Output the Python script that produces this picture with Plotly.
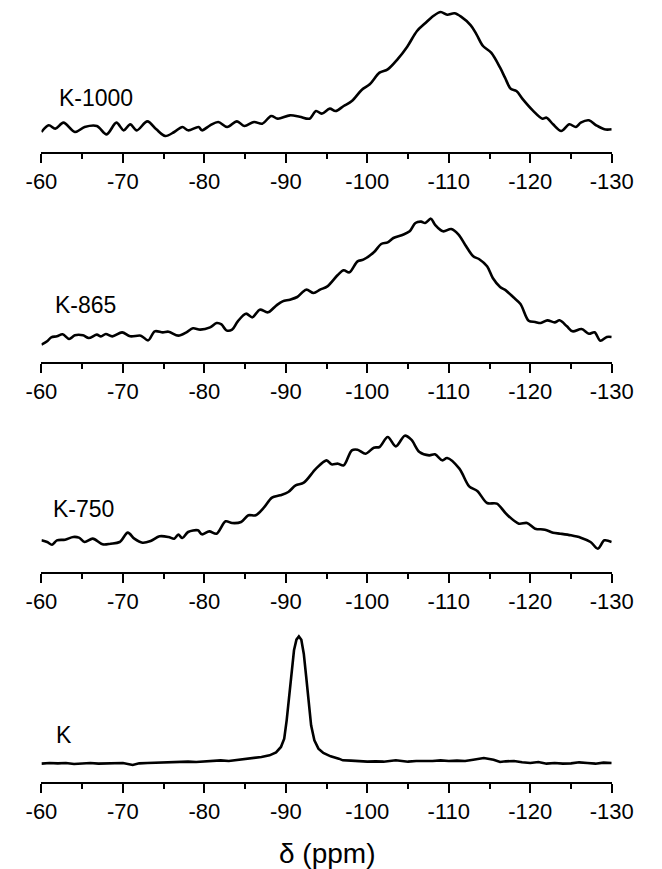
import plotly.graph_objects as go

# 29Si MAS NMR spectra: chemical shift (ppm) and intensity (a.u.)
ppm_k1000 = [-60.0, -60.9, -61.7, -62.7, -64.1, -65.3, -66.8, -68.0, -69.2, -70.1,
             -70.9, -71.7, -73.0, -74.1, -75.2, -76.3, -77.3, -78.0, -79.3, -79.7,
             -80.7, -81.7, -82.8, -84.0, -84.9, -86.1, -87.1, -88.2, -89.0, -90.5,
             -91.7, -92.9, -93.7, -94.4, -95.4, -96.1, -97.1, -98.1, -99.3, -100.3,
             -101.5, -102.5, -103.7, -104.9, -106.1, -107.1, -108.1, -109.0, -109.8, -110.7,
             -111.5, -112.7, -113.4, -114.2, -115.2, -116.3, -116.9, -117.6, -118.3, -119.1,
             -120.3, -121.5, -122.0, -122.8, -123.8, -124.8, -125.6, -126.2, -127.2, -128.1,
             -129.1, -130.0]
int_k1000 = [-3, 17, 7, 25, -3, 12, 15, -10, 25, 2,
             20, 2, 29, 5, -15, -3, 12, 2, 12, 2,
             17, 27, 12, 29, 15, 27, 22, 45, 37, 47,
             43, 37, 60, 52, 67, 60, 75, 90, 123, 140,
             175, 185, 215, 253, 300, 323, 345, 357, 349, 353,
             343, 317, 290, 255, 235, 190, 160, 127, 120, 95,
             62, 37, 40, 20, 0, 20, 12, 25, 32, 17,
             5, 5]

ppm_k865 = [-60.0, -60.7, -61.2, -61.9, -62.6, -63.4, -64.1, -65.1, -65.8, -66.8,
            -67.3, -67.9, -68.7, -69.9, -70.9, -72.2, -73.1, -73.9, -74.9, -75.6,
            -76.8, -77.8, -78.6, -79.5, -80.7, -81.5, -82.1, -82.7, -83.4, -84.1,
            -85.1, -85.9, -86.8, -87.8, -88.8, -89.6, -90.5, -91.4, -92.5, -93.4,
            -94.2, -95.1, -96.4, -97.1, -97.8, -98.8, -99.5, -100.8, -101.7, -102.5,
            -103.2, -104.3, -105.2, -105.9, -106.6, -107.1, -107.8, -108.3, -109.3, -110.3,
            -111.2, -112.0, -113.0, -113.7, -114.7, -115.4, -116.3, -117.0, -117.9, -118.8,
            -119.8, -120.6, -121.3, -122.1, -123.0, -123.6, -124.5, -125.2, -126.3, -127.2,
            -127.9, -128.6, -129.4, -130.0]
int_k865 = [-25, -15, -3, 0, 6, -8, 3, 3, -5, 5,
            0, 7, 0, 12, 0, 2, -12, 15, 12, 14,
            2, 12, 24, 20, 27, 40, 36, 18, 20, 45,
            68, 57, 80, 72, 92, 105, 110, 118, 140, 130,
            140, 150, 185, 198, 192, 225, 230, 252, 277, 282,
            295, 304, 315, 340, 344, 340, 353, 335, 315, 322,
            305, 275, 240, 232, 210, 175, 148, 138, 118, 97,
            47, 43, 40, 48, 42, 48, 30, 15, 22, 8,
            12, -13, -2, -2]

ppm_k750 = [-60.0, -60.7, -61.3, -61.9, -62.9, -63.9, -64.6, -65.3, -66.3, -67.5,
            -68.5, -69.6, -70.6, -71.4, -72.4, -73.4, -74.5, -75.6, -76.3, -76.8,
            -77.3, -78.0, -79.2, -79.7, -80.6, -81.5, -82.6, -83.4, -84.5, -85.4,
            -86.3, -87.3, -88.3, -89.3, -90.3, -91.2, -92.2, -93.7, -95.0, -95.6,
            -96.4, -97.1, -98.1, -98.8, -99.8, -100.8, -101.5, -102.5, -103.5, -104.6,
            -105.4, -106.4, -107.6, -108.3, -109.2, -109.8, -111.3, -112.5, -113.5, -114.7,
            -115.9, -117.1, -118.6, -119.6, -120.6, -121.8, -122.8, -123.7, -125.0, -126.2,
            -127.4, -128.3, -129.1, -130.0]
int_k750 = [0, -5, -13, 0, 2, 10, 8, -5, 5, -12,
            -10, -5, 23, 5, -7, -2, 12, 10, 5, 17,
            7, 25, 30, 18, 27, 20, 57, 52, 55, 75,
            75, 98, 128, 135, 145, 165, 173, 215, 240, 228,
            230, 225, 270, 272, 260, 278, 280, 310, 282, 314,
            302, 265, 255, 258, 240, 247, 215, 162, 148, 112,
            110, 78, 50, 52, 35, 32, 23, 20, 15, 8,
            -5, -25, 0, -5]

ppm_k = [-60.0, -61.0, -62.0, -63.0, -64.0, -65.0, -66.0, -67.0, -68.0, -69.0,
         -70.0, -71.2, -72.0, -73.0, -74.0, -75.0, -76.0, -77.0, -78.0, -79.0,
         -80.0, -81.0, -82.0, -83.0, -84.0, -85.5, -87.0, -88.0, -88.8, -89.4,
         -89.8, -90.1, -90.4, -90.7, -91.0, -91.3, -91.6, -91.9, -92.2, -92.5,
         -92.8, -93.1, -93.5, -94.0, -94.6, -95.5, -96.5, -97.0, -98.0, -99.0,
         -100.0, -101.0, -102.0, -103.5, -105.0, -106.0, -107.0, -108.0, -109.0, -110.0,
         -111.0, -112.0, -113.0, -114.3, -115.5, -116.3, -117.0, -118.0, -119.0, -120.0,
         -121.0, -122.0, -123.0, -124.0, -125.0, -126.0, -127.0, -128.0, -129.0, -130.0]
int_k = [-2, 0, -1, 0, -3, -1, 0, -2, -2, 0,
         0, -6, -1, 0, 1, 2, 1, 2, 4, 3,
         5, 6, 8, 6, 9, 12, 18, 23, 32, 48,
         73, 128, 198, 278, 338, 370, 380, 370, 328, 258,
         178, 113, 68, 43, 30, 20, 13, 8, 7, 5,
         4, 5, 4, 8, 4, 6, 5, 6, 8, 6,
         7, 6, 10, 15, 10, 3, 5, 6, 2, 0,
         3, -2, 0, -2, -1, 2, 0, -2, 1, 0]

labels = ["K-1000", "K-865", "K-750", "K"]
series = [(ppm_k1000, int_k1000), (ppm_k865, int_k865),
          (ppm_k750, int_k750), (ppm_k, int_k)]
shapes_line = ["spline", "spline", "spline", "linear"]

tick_vals = [-60, -70, -80, -90, -100, -110, -120, -130]
tick_text = ["-60", "-70", "-80", "-90", "-100", "-110", "-120", "-130"]
minor_vals = [-65, -75, -85, -95, -105, -115, -125]

# page geometry (pixels)
W, H = 662, 869
axis_px = [152, 362, 572, 782]      # bottom axis line of each panel
panel_h = 150                        # plotting height of each panel
floor = [-63, -77, -95, -57]         # intensity at each axis line
per_px = 3.0                         # intensity units per pixel
label_y_px = [98, 305, 509, 735]
label_x_px = [43, 39, 37, 40]
x0_px, x1_px = 27, 632

FONT = "Liberation Sans, Arial, sans-serif"

fig = go.Figure()
layout = dict(
    width=W, height=H, autosize=False,
    margin=dict(l=0, r=0, t=0, b=0, pad=0),
    paper_bgcolor="white", plot_bgcolor="white",
    showlegend=False,
    font=dict(family=FONT, color="black"),
    annotations=[],
)

for i, ((xs, ys), name) in enumerate(zip(series, labels)):
    n = "" if i == 0 else str(i + 1)
    fig.add_trace(go.Scatter(
        x=xs, y=ys, mode="lines", name=name,
        line=dict(color="black", width=2.6, shape=shapes_line[i], smoothing=0.9),
        xaxis="x" + n, yaxis="y" + n, hoverinfo="skip",
    ))
    y_lo = 1 - axis_px[i] / H
    y_hi = 1 - (axis_px[i] - panel_h) / H
    layout["xaxis" + n] = dict(
        domain=[x0_px / W, x1_px / W],
        range=[-60, -130],
        anchor="y" + n,
        showgrid=False, zeroline=False,
        showline=True, linecolor="black", linewidth=2,
        ticks="outside", ticklen=9, tickwidth=2, tickcolor="black",
        tickvals=tick_vals, ticktext=tick_text,
        tickfont=dict(family=FONT, size=22, color="black"),
        minor=dict(tickvals=minor_vals,
                   ticks="outside", ticklen=5, tickwidth=2, tickcolor="black",
                   showgrid=False),
    )
    layout["yaxis" + n] = dict(
        domain=[y_lo, y_hi],
        range=[floor[i], floor[i] + per_px * panel_h],
        anchor="x" + n,
        visible=False,
    )
    layout["annotations"].append(dict(
        text=name, xref="paper", yref="paper",
        x=label_x_px[i] / W, y=1 - label_y_px[i] / H,
        xanchor="left", yanchor="middle", showarrow=False,
        font=dict(family=FONT, size=23, color="black"),
    ))

# shared x-axis title under the bottom panel
layout["annotations"].append(dict(
    text="\u03b4 (ppm)", xref="paper", yref="paper",
    x=(x0_px + x1_px) / 2 / W, y=1 - 853 / H,
    xanchor="center", yanchor="middle", showarrow=False,
    font=dict(family=FONT, size=28, color="black"),
))

fig.update_layout(**layout)
fig.write_html("out.html")
